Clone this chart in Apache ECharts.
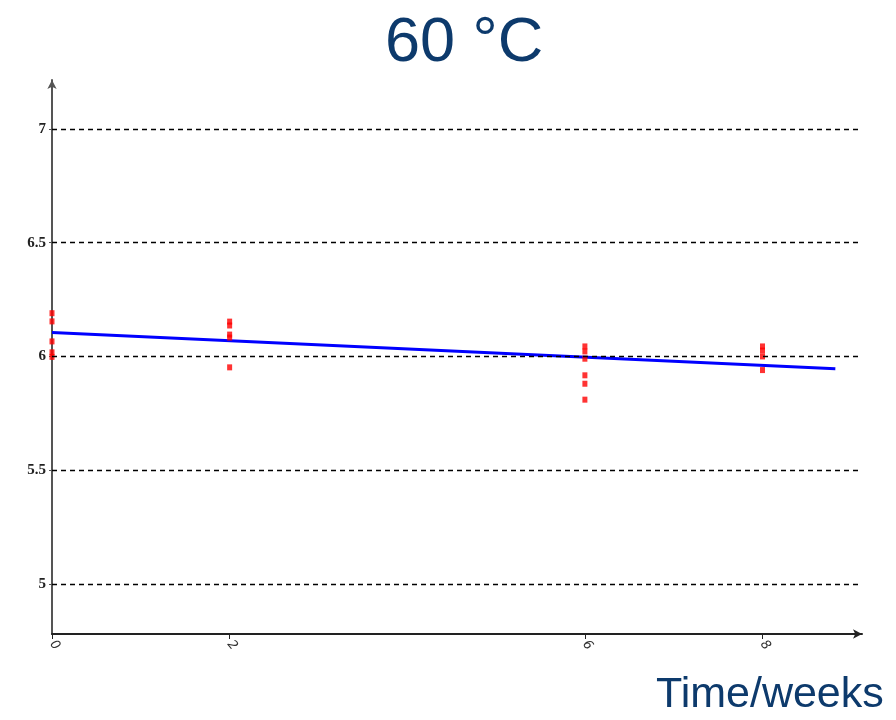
<!DOCTYPE html>
<html>
<head>
<meta charset="utf-8">
<script src="https://cdn.jsdelivr.net/npm/echarts@6/dist/echarts.min.js"></script>
<style>
  html, body { margin: 0; padding: 0; background: #fff; }
  #chart { width: 896px; height: 720px; }
</style>
</head>
<body>
<div id="chart"></div>
<script>
const weekTicks = [0, 2, 6, 8];
const levelTicks = [5, 5.5, 6, 6.5, 7];

const week0 = [6.19, 6.154, 6.066, 6.018, 5.998];
const week2 = [6.153, 6.136, 6.096, 6.083, 5.952];
const week6 = [6.044, 6.022, 5.99, 5.917, 5.88, 5.81];
const week8 = [6.044, 6.026, 6.0, 5.94];

// fitted trend line
const fitWeeks = [0, 8.82];
const fitValues = [6.105, 5.946];

const points = [];
[[0, week0], [2, week2], [6, week6], [8, week8]].forEach(([w, vals]) => {
  vals.forEach(v => points.push([w, v]));
});
const fitData = fitWeeks.map((w, i) => [w, fitValues[i]]);

const chart = echarts.init(document.getElementById('chart'));
chart.setOption({
  animation: false,
  grid: { left: 52, right: 34, top: 80, bottom: 86 },
  xAxis: {
    type: 'value',
    min: 0,
    max: 9.12,
    axisLine: {
      show: true,
      symbol: ['none', 'arrow'],
      symbolSize: [7, 9],
      lineStyle: { color: '#222', width: 2 }
    },
    axisTick: { show: true, customValues: weekTicks, length: 5, lineStyle: { color: '#222' } },
    axisLabel: {
      customValues: weekTicks,
      rotate: -50,
      color: '#333',
      fontFamily: 'DejaVu Sans',
      fontStyle: 'italic',
      fontSize: 13,
      margin: 8
    },
    splitLine: { show: false }
  },
  yAxis: {
    type: 'value',
    min: 4.78,
    max: 7.215,
    axisLine: {
      show: true,
      symbol: ['none', 'arrow'],
      symbolSize: [7, 9],
      lineStyle: { color: '#555', width: 2 }
    },
    axisTick: { show: true, customValues: levelTicks, length: 3, lineStyle: { color: '#555' } },
    axisLabel: {
      customValues: levelTicks,
      color: '#222',
      fontFamily: 'Liberation Serif',
      fontWeight: 'bold',
      fontSize: 15,
      margin: 6
    },
    splitLine: { show: false }
  },
  graphic: [
    {
      type: 'text',
      left: 385, top: 12,
      style: { text: '60 °C', font: '63px "Liberation Sans"', fill: '#0d3a6c' }
    },
    {
      type: 'text',
      left: 656, top: 674,
      style: { text: 'Time/weeks', font: '43px "Liberation Sans"', fill: '#0d3a6c' }
    }
  ],
  series: [
    {
      type: 'line',
      data: [],
      silent: true,
      z: 1,
      markLine: {
        silent: true,
        symbol: 'none',
        label: { show: false },
        lineStyle: { color: '#000', type: [5, 4], width: 1.4 },
        data: levelTicks.map(v => ({ yAxis: v }))
      }
    },
    {
      type: 'line',
      data: fitData,
      showSymbol: false,
      z: 3,
      lineStyle: { color: '#0000ff', width: 3 }
    },
    {
      type: 'scatter',
      data: points,
      symbol: 'rect',
      symbolSize: [5, 6],
      z: 4,
      itemStyle: { color: '#ff0000' }
    }
  ]
});
</script>
</body>
</html>
